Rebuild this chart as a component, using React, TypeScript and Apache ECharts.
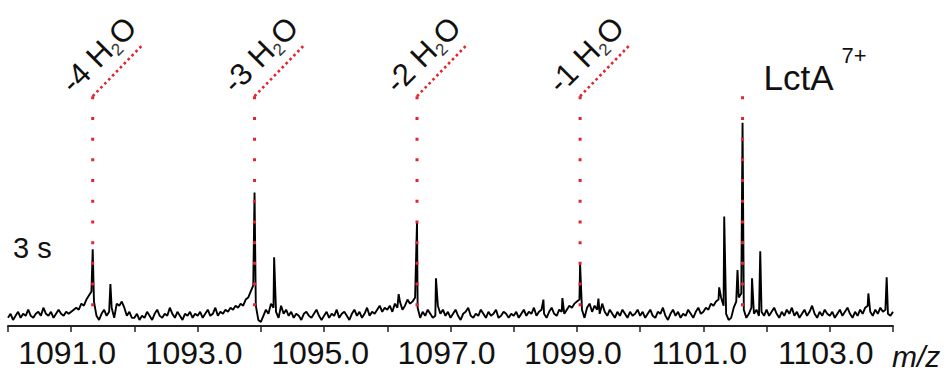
import React, { useEffect, useRef } from "react";
import * as echarts from "echarts";

// m/z sampling of the recorded baseline
const mzStart = 1090.0;
const mzStep = 0.04;
// baseline / noise intensities (relative, LctA 7+ = 100)
const noise: number[] = [
  4, 6, 3, 5, 7, 4, 6, 5, 8, 5, 4, 6, 7, 5, 9, 6, 5, 7, 4, 6, 8, 6, 5, 7, 6,
  7, 8, 9, 8, 11, 10, 13, 15, 17, 12, 5, 3, 6, 8, 5, 7, 9, 4, 11, 10, 12, 9, 5, 7, 4,
  4, 6, 3, 5, 4, 7, 5, 3, 6, 8, 5, 4, 6, 5, 9, 6, 4, 7, 5, 3, 6, 5, 7, 4, 6,
  5, 7, 4, 6, 8, 5, 6, 9, 5, 7, 6, 8, 7, 9, 8, 10, 9, 11, 10, 13, 14, 17, 20, 10, 3,
  2, 5, 8, 6, 11, 9, 7, 4, 10, 6, 8, 5, 7, 4, 6, 5, 3, 6, 7, 5, 4, 6, 8, 5, 3,
  5, 7, 4, 6, 5, 8, 4, 6, 7, 5, 3, 6, 8, 5, 7, 4, 6, 9, 5, 7, 6, 8, 10, 7, 9,
  8, 10, 7, 11, 9, 12, 8, 10, 13, 11, 12, 14, 9, 4, 7, 5, 8, 6, 4, 5, 10, 6, 8, 5, 7,
  4, 6, 8, 5, 3, 6, 7, 9, 5, 4, 6, 5, 8, 6, 4, 7, 5, 6, 8, 4, 5, 7, 6, 4, 6,
  5, 7, 4, 6, 8, 5, 7, 6, 9, 5, 7, 8, 6, 4, 7, 9, 6, 5, 8, 7, 6, 8, 10, 9, 11,
  12, 13, 8, 4, 9, 11, 7, 10, 8, 6, 11, 7, 5, 8, 6, 4, 7, 5, 8, 6, 4, 7, 5, 6, 8,
  5, 7, 4, 6, 8, 5, 4, 7, 6, 9, 5, 3, 6, 8, 5, 7, 4, 6, 5, 8, 6, 4, 7, 9, 6,
  7, 9, 8, 11, 10, 12, 13, 14, 10, 6, 3, 4, 9, 12, 14, 16, 8, 4, 6, 9, 6, 8, 5, 7, 5,
  8, 5, 7, 9, 6, 4, 7, 5, 8, 6, 9, 5, 7, 4, 6, 8, 5, 7, 10, 6, 4, 7, 5, 8, 6,
  5, 7, 4, 6, 8, 5, 7, 9, 6, 4, 7, 5, 8, 6, 9, 10, 7, 5, 8, 6, 9, 7, 8, 6, 5, 7,
];
// peak apexes [m/z, intensity]
const peaks: [number, number][] = [
  [1091.34, 37.7], [1091.62, 20.6], [1093.9, 65.7], [1094.21, 33.8],
  [1096.18, 15.7], [1096.47, 51], [1096.77, 23.5], [1098.47, 13],
  [1098.77, 13.7], [1099.05, 30.4], [1099.34, 13.5], [1101.25, 19],
  [1101.33, 53.9], [1101.54, 27.5], [1101.62, 100], [1101.77, 23.5],
  [1101.9, 36.8], [1103.61, 16], [1103.9, 24],
];
// annotations
const lossLabels = ["-4", "-3", "-2", "-1"];
const lossMz = [1091.34, 1093.9, 1096.47, 1099.05];
const parentMz = 1101.62;
const parentLabel = "LctA";
const parentCharge = "7+";
const timeLabel = "3 s";
const guideTop = 113;
const guideBottom = 1.5;
const diagTop = 138;
const diagMzSpan = 0.78;

const RED = "#e3242b";

export default function App() {
  const ref = useRef<HTMLDivElement>(null);
  useEffect(() => {
    if (!ref.current) return;
    const chart = echarts.init(ref.current, null, { renderer: "svg" });
    const spectrum = noise
      .map((v, i) => [+(mzStart + i * mzStep).toFixed(2), v] as [number, number])
      .concat(peaks)
      .sort((a, b) => a[0] - b[0]);

    const guideSeries: any[] = [];
    [...lossMz, parentMz].forEach((mz) => {
      guideSeries.push({
        type: "line",
        data: [[mz, guideTop], [mz, guideBottom]],
        symbol: "none",
        silent: true,
        z: 3,
        lineStyle: { color: RED, width: 3, type: [3, 17.7], cap: "butt" },
      });
    });
    lossMz.forEach((mz) => {
      guideSeries.push({
        type: "line",
        data: [[mz, guideTop], [mz + diagMzSpan, diagTop]],
        symbol: "none",
        silent: true,
        z: 3,
        lineStyle: { color: RED, width: 2.6, type: [2.6, 3], cap: "butt" },
      });
    });

    chart.setOption({
      animation: false,
      backgroundColor: "#fff",
      grid: { left: 8, right: 55, top: 21, bottom: 44, containLabel: false },
      xAxis: {
        type: "value",
        min: 1090,
        max: 1104,
        interval: 1,
        name: "m/z",
        nameLocation: "end",
        nameGap: -1,
        nameTextStyle: {
          fontStyle: "italic",
          fontSize: 30,
          lineHeight: 24,
          color: "#111",
          fontFamily: "Liberation Sans",
          verticalAlign: "top",
          align: "left",
          padding: [18, 0, 0, 0],
        },
        axisLine: { lineStyle: { color: "#222", width: 2 } },
        axisTick: { show: true, length: 6, lineStyle: { color: "#222", width: 1.5 } },
        splitLine: { show: false },
        axisLabel: {
          interval: 0,
          margin: 15,
          fontSize: 32,
          lineHeight: 24,
          color: "#111",
          fontFamily: "Liberation Sans",
          padding: [0, 8, 0, 0],
          formatter: (v: number) => (Math.round(v) % 2 === 1 ? v.toFixed(1) : ""),
        },
      },
      yAxis: { type: "value", min: 0, max: 150, show: false },
      series: [
        {
          type: "line",
          data: spectrum,
          symbol: "none",
          silent: true,
          z: 2,
          lineStyle: { color: "#000", width: 1.9 },
        },
        ...guideSeries,
      ],
    });

    const px = (mz: number, y: number) =>
      chart.convertToPixel({ gridIndex: 0 }, [mz, y]) as number[];
    const rich = {
      a: { fontSize: 31, lineHeight: 36, fontFamily: "Liberation Sans", fill: "#111", color: "#111" },
      b: { fontSize: 17, lineHeight: 18, verticalAlign: "bottom", fontFamily: "Liberation Sans", fill: "#333", color: "#333" },
    };
    const graphics: any[] = lossMz.map((mz, k) => {
      const p = px(mz, guideTop);
      return {
        type: "text",
        x: p[0] - 14,
        y: p[1] + 4,
        rotation: Math.PI / 4,
        style: {
          text: `{a|${lossLabels[k]} H}{b|2}{a|O}`,
          rich,
          align: "left",
          verticalAlign: "bottom",
          fill: "#111",
        },
      };
    });
    // plain texts placed by their baseline (bottom of box ~ baseline + 0.15 * size)
    const plain = (text: string, x: number, baseline: number, size: number) => ({
      type: "text",
      x,
      y: baseline + 0.15 * size,
      style: {
        text,
        font: `${size}px "Liberation Sans"`,
        fill: "#111",
        align: "left",
        verticalAlign: "bottom",
      },
    });
    const pp = px(parentMz, guideTop);
    graphics.push(plain(parentLabel, pp[0] + 21, pp[1] - 6, 35));
    graphics.push(plain(parentCharge, pp[0] + 99, pp[1] - 33, 22));
    graphics.push(plain(timeLabel, 13, 258, 29));
    chart.setOption({ graphic: graphics });

    return () => chart.dispose();
  }, []);
  return (
    <div
      ref={ref}
      style={{ position: "fixed", left: 0, top: 0, width: 948, height: 371, background: "#fff" }}
    />
  );
}
